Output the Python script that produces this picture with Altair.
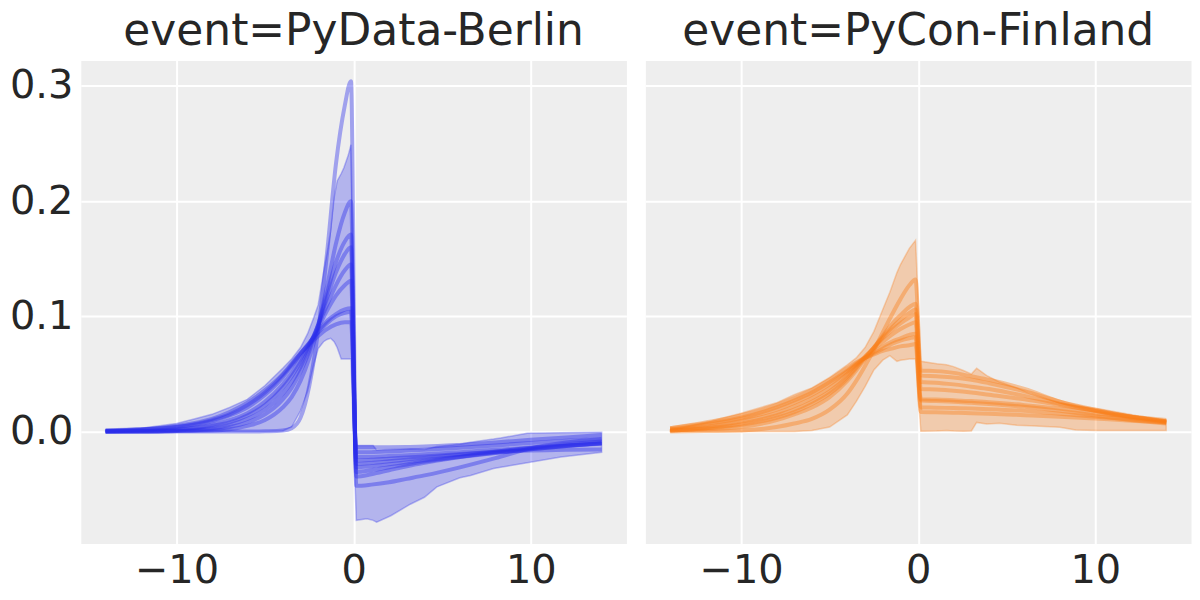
import altair as alt
import pandas as pd

# ---------------- data ----------------
events = ["PyData-Berlin", "PyCon-Finland"]
colors = ["#2a2eec", "#fa7c17"]

x_pre = [-14, -12, -10, -8, -7, -6, -5, -4, -3.5, -3, -2.5, -2, -1.5, -1, -0.5, -0.15]
x_post = [0.15, 1, 2, 3, 4, 6, 8, 10, 12, 14]

berlin_pre = [
    [0, 0, 0, 0, 0, 0, 0.0003, 0.001, 0.003, 0.012, 0.040, 0.088, 0.155, 0.232, 0.283, 0.304],
    [0, 0, 0.0005, 0.001, 0.002, 0.005, 0.010, 0.021, 0.030, 0.044, 0.064, 0.091, 0.126, 0.163, 0.190, 0.200],
    [0, 0, 0.0005, 0.002, 0.004, 0.008, 0.015, 0.028, 0.038, 0.052, 0.070, 0.093, 0.120, 0.147, 0.165, 0.171],
    [0, 0, 0.001, 0.003, 0.006, 0.011, 0.019, 0.033, 0.043, 0.056, 0.073, 0.093, 0.116, 0.138, 0.154, 0.160],
    [0, 0.0005, 0.0015, 0.005, 0.008, 0.014, 0.023, 0.038, 0.048, 0.060, 0.075, 0.092, 0.110, 0.127, 0.140, 0.145],
    [0, 0.001, 0.002, 0.006, 0.010, 0.016, 0.026, 0.041, 0.051, 0.063, 0.076, 0.090, 0.105, 0.118, 0.127, 0.131],
    [0.0005, 0.0015, 0.004, 0.009, 0.014, 0.021, 0.032, 0.047, 0.057, 0.067, 0.077, 0.087, 0.096, 0.102, 0.106, 0.107],
    [0.001, 0.002, 0.004, 0.010, 0.015, 0.023, 0.034, 0.049, 0.058, 0.068, 0.077, 0.086, 0.094, 0.100, 0.103, 0.104],
    [0.001, 0.002, 0.005, 0.011, 0.017, 0.025, 0.036, 0.050, 0.059, 0.068, 0.076, 0.083, 0.089, 0.093, 0.095, 0.095],
]
berlin_post = [
    [-0.047, -0.046, -0.044, -0.041, -0.038, -0.031, -0.023, -0.0145, -0.0095, -0.0065],
    [-0.039, -0.037, -0.0335, -0.030, -0.027, -0.022, -0.0175, -0.014, -0.011, -0.0085],
    [-0.035, -0.0335, -0.031, -0.0285, -0.026, -0.022, -0.0185, -0.0153, -0.0125, -0.0098],
    [-0.031, -0.030, -0.0283, -0.0265, -0.0248, -0.0215, -0.0183, -0.0153, -0.0125, -0.010],
    [-0.028, -0.0272, -0.0258, -0.0243, -0.0228, -0.020, -0.0172, -0.0145, -0.012, -0.010],
    [-0.025, -0.0245, -0.0235, -0.0225, -0.0215, -0.0195, -0.0178, -0.0165, -0.0158, -0.0155],
    [-0.022, -0.0218, -0.0212, -0.0205, -0.0197, -0.0178, -0.0158, -0.0138, -0.012, -0.0105],
    [-0.018, -0.0178, -0.0172, -0.0165, -0.0158, -0.014, -0.012, -0.0098, -0.008, -0.0065],
    [-0.0136, -0.0136, -0.0135, -0.0133, -0.013, -0.0115, -0.0095, -0.007, -0.005, -0.003],
]

finland_pre = [
    [0.0, 0.0005, 0.001, 0.004, 0.007, 0.011, 0.019, 0.033, 0.044, 0.057, 0.071, 0.086, 0.101, 0.115, 0.127, 0.132],
    [0.001, 0.002, 0.004, 0.010, 0.015, 0.021, 0.030, 0.044, 0.053, 0.063, 0.073, 0.083, 0.093, 0.101, 0.108, 0.111],
    [0.001, 0.003, 0.006, 0.012, 0.017, 0.024, 0.033, 0.046, 0.055, 0.064, 0.073, 0.082, 0.090, 0.097, 0.103, 0.106],
    [0.001, 0.003, 0.007, 0.014, 0.019, 0.026, 0.035, 0.048, 0.056, 0.065, 0.073, 0.081, 0.088, 0.094, 0.099, 0.102],
    [0.002, 0.004, 0.009, 0.016, 0.022, 0.029, 0.038, 0.050, 0.058, 0.065, 0.072, 0.078, 0.084, 0.089, 0.093, 0.095],
    [0.002, 0.006, 0.011, 0.019, 0.025, 0.032, 0.041, 0.052, 0.058, 0.064, 0.069, 0.074, 0.078, 0.081, 0.084, 0.085],
    [0.003, 0.007, 0.012, 0.021, 0.027, 0.034, 0.043, 0.053, 0.059, 0.064, 0.068, 0.072, 0.076, 0.079, 0.081, 0.082],
    [0.003, 0.008, 0.014, 0.023, 0.029, 0.036, 0.045, 0.055, 0.060, 0.064, 0.067, 0.070, 0.072, 0.074, 0.075, 0.076],
]
finland_post = [
    [0.053, 0.0525, 0.051, 0.048, 0.045, 0.037, 0.026, 0.018, 0.012, 0.008],
    [0.0486, 0.048, 0.047, 0.045, 0.042, 0.035, 0.026, 0.019, 0.013, 0.0085],
    [0.043, 0.0425, 0.041, 0.039, 0.037, 0.031, 0.024, 0.018, 0.013, 0.009],
    [0.037, 0.0365, 0.0355, 0.034, 0.032, 0.028, 0.023, 0.018, 0.013, 0.009],
    [0.028, 0.0278, 0.0272, 0.0265, 0.0255, 0.023, 0.020, 0.016, 0.013, 0.010],
    [0.027, 0.0265, 0.026, 0.025, 0.024, 0.0215, 0.018, 0.014, 0.010, 0.007],
    [0.021, 0.0208, 0.0204, 0.020, 0.0195, 0.018, 0.0155, 0.013, 0.0105, 0.008],
    [0.017, 0.0168, 0.0164, 0.016, 0.0155, 0.0143, 0.013, 0.0113, 0.0095, 0.0078],
]

berlin_band_x = [-14, -12, -10, -9, -8, -7, -6, -5, -4, -3.5, -3, -2.6, -2.25, -2, -1.7, -1.5, -1.3,
                 -1.1, -0.93, -0.7, -0.55, -0.3, -0.15, 0.15, 0.75, 1.1, 1.3, 2.1, 3.2, 4, 4.7, 6,
                 6.6, 7.9, 8.3, 9.8, 11.7, 14]
berlin_band_hi = [0.0012, 0.003, 0.007, 0.011, 0.015, 0.021, 0.028, 0.040, 0.055, 0.063, 0.073, 0.085,
                  0.099, 0.110, 0.138, 0.155, 0.174, 0.203, 0.2175, 0.224, 0.229, 0.240, 0.249,
                  -0.012, -0.012, -0.012, -0.016, -0.0155, -0.015, -0.0155, -0.013, -0.011,
                  -0.0093, -0.0065, -0.0055, -0.0015, -0.001, -0.0006]
berlin_band_lo = [0, 0, 0, 0, 0, 0, 0, 0, 0.0005, 0.004, 0.018, 0.035, 0.058, 0.072, 0.078, 0.080,
                  0.081, 0.078, 0.073, 0.063, 0.063, 0.063, 0.063, -0.077, -0.0757, -0.077,
                  -0.0786, -0.073, -0.063, -0.057, -0.048, -0.040, -0.038, -0.032, -0.031,
                  -0.027, -0.022, -0.018]

finland_band_x = [-14, -12, -10, -8, -7, -6, -5, -4, -3.5, -3, -2.5, -2, -1.6, -1.2, -1, -0.5, -0.15,
                  0.15, 1.05, 1.6, 2, 2.55, 3.0, 3.3, 3.87, 4.6, 5.56, 6.3, 8, 8.9, 10.1, 12.3, 14]
finland_band_hi = [0.0015, 0.008, 0.016, 0.025, 0.032, 0.038, 0.047, 0.058, 0.064, 0.073, 0.087,
                   0.106, 0.121, 0.138, 0.145, 0.159, 0.166, 0.061, 0.059, 0.058, 0.0564, 0.053,
                   0.050, 0.055, 0.0486, 0.043, 0.038, 0.033, 0.025, 0.0225, 0.020, 0.014, 0.010]
finland_band_lo = [0, 0, 0, 0, 0, 0.001, 0.004, 0.0145, 0.026, 0.039, 0.0535, 0.062, 0.066, 0.061,
                   0.062, 0.063, 0.063, 0.0003, 0.0005, 0.001, 0.0005, 0.0003, 0.0005, 0.008,
                   0.0066, 0.0072, 0.0055, 0.005, 0.0038, 0.0014, 0.001, 0.001, 0.001]

x_ticks = [-10, 0, 10]
y_ticks = [0.0, 0.1, 0.2, 0.3]

# ---------------- build tables ----------------
def lines_table(pre, post):
    rows = []
    for i, (a, b) in enumerate(zip(pre, post)):
        for x, y in zip(x_pre + x_post, a + b):
            rows.append({"sample": i, "x": x, "y": y})
    return pd.DataFrame(rows)


def band_table(bx, hi, lo):
    return pd.DataFrame({"x": bx, "hi": hi, "lo": lo})


FONT = "DejaVu Sans"
xs = alt.Scale(domain=[-15.4, 15.4], nice=False, zero=False)
ys = alt.Scale(domain=[-0.097, 0.322], nice=False, zero=False)


def panel(event, color, pre, post, bx, hi, lo, show_y):
    xaxis = alt.Axis(values=x_ticks, format="d", title=None, labelPadding=7, labelFlush=False)
    yaxis = alt.Axis(values=y_ticks, format=".1f", title=None, labels=show_y, labelPadding=8)
    band = alt.Chart(band_table(bx, hi, lo)).mark_area(
        color=color, fillOpacity=0.3, stroke=color, strokeOpacity=0.3, strokeWidth=1.5
    ).encode(
        x=alt.X("x:Q", scale=xs, axis=xaxis),
        y=alt.Y("lo:Q", scale=ys, axis=yaxis),
        y2="hi:Q",
    )
    lines = alt.Chart(lines_table(pre, post)).mark_line(
        color=color, strokeWidth=4, strokeOpacity=0.4, interpolate="monotone"
    ).encode(
        x=alt.X("x:Q", scale=xs),
        y=alt.Y("y:Q", scale=ys),
        detail="sample:N",
    )
    return alt.layer(band, lines).properties(
        width=547, height=484,
        title=alt.TitleParams("event=" + event, baseline="top", offset=7),
    )


left = panel(events[0], colors[0], berlin_pre, berlin_post,
             berlin_band_x, berlin_band_hi, berlin_band_lo, True)
right = panel(events[1], colors[1], finland_pre, finland_post,
              finland_band_x, finland_band_hi, finland_band_lo, False)

chart = alt.hconcat(left, right, spacing=17).properties(
    padding={"left": 0, "top": 0, "right": 0, "bottom": 0}
).configure_view(
    fill="#eeeeee", stroke="transparent"
).configure_axis(
    grid=True, gridColor="white", gridWidth=2, gridOpacity=1,
    domain=False, ticks=False,
    labelFont=FONT, labelFontSize=40, labelColor="#262626",
).configure_title(
    font=FONT, fontSize=44, fontWeight="normal", color="#262626", anchor="middle"
)

chart.save("out.html", embed_options={"renderer": "svg", "actions": False})
